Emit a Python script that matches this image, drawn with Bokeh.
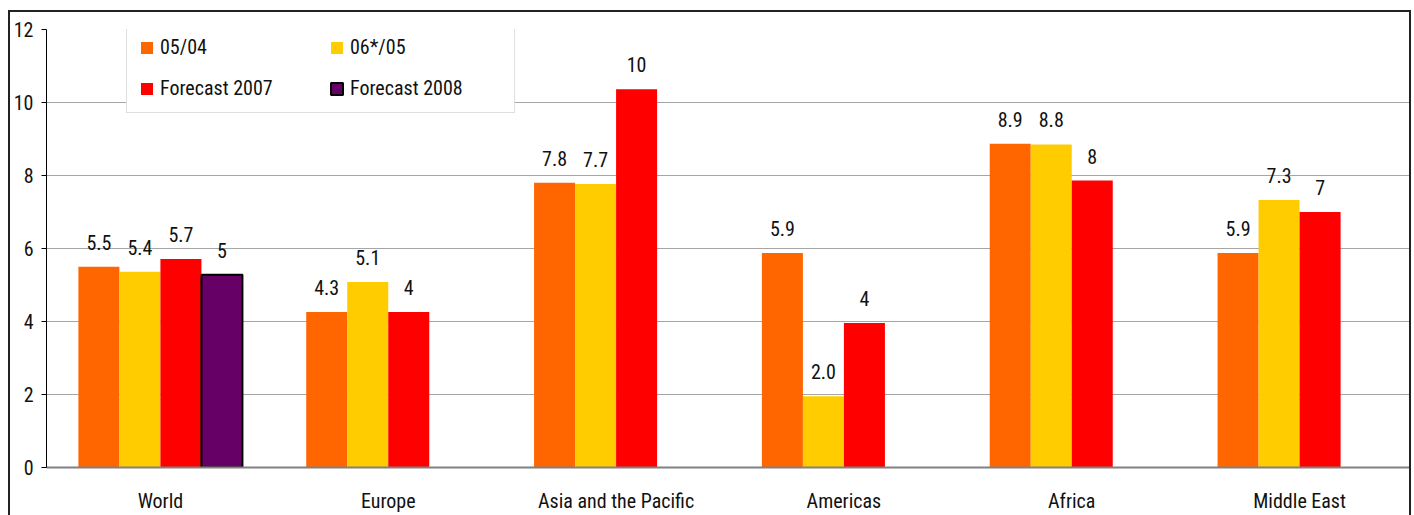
import math
from bokeh.plotting import figure
from bokeh.models import ColumnDataSource, FactorRange, Legend, LegendItem, FixedTicker
from bokeh.transform import dodge
from bokeh.core.properties import value
from bokeh.embed import file_html
from bokeh.resources import INLINE

regions = ["World", "Europe", "Asia and the Pacific", "Americas", "Africa", "Middle East"]
series_names = ["05/04", "06*/05", "Forecast 2007", "Forecast 2008"]

v_0504 = [5.5, 4.26, 7.8, 5.88, 8.87, 5.88]
v_0605 = [5.36, 5.08, 7.77, 1.95, 8.85, 7.33]
v_f2007 = [5.71, 4.26, 10.36, 3.96, 7.86, 7.0]
v_f2008 = [5.28, None, None, None, None, None]

l_0504 = ["5.5", "4.3", "7.8", "5.9", "8.9", "5.9"]
l_0605 = ["5.4", "5.1", "7.7", "2.0", "8.8", "7.3"]
l_f2007 = ["5.7", "4", "10", "4", "8", "7"]
l_f2008 = ["5", None, None, None, None, None]

y_ticks = [0, 2, 4, 6, 8, 10, 12]

colors = ["#FF6600", "#FFCC00", "#FF0000", "#660066"]
offsets = [-0.27, -0.09, 0.09, 0.27]
bar_w = 0.18

FONT = "Roboto Condensed, DejaVu Sans Condensed, sans-serif"
TXT = "#111111"

p = figure(x_range=FactorRange(*regions, range_padding=0), y_range=(0, 12),
           width=1403, height=505, output_backend="svg", toolbar_location=None,
           min_border_left=35, min_border_right=0, min_border_top=17, min_border_bottom=50)
p.styles = {"border": "2px solid #222222", "border-bottom": "none",
            "box-sizing": "border-box", "margin-left": "8px", "margin-top": "10px"}

p.outline_line_color = None
p.xgrid.grid_line_color = None
p.ygrid.grid_line_color = "#a6a6a6"
p.ygrid.grid_line_width = 1

p.yaxis.ticker = FixedTicker(ticks=y_ticks)
p.yaxis.minor_tick_line_color = None
p.yaxis.major_tick_out = 5
p.yaxis.major_tick_in = 0
p.yaxis.axis_line_color = "#000000"
p.yaxis.major_tick_line_color = "#000000"
p.yaxis.major_label_text_font = FONT
p.yaxis.major_label_text_font_size = "20px"
p.yaxis.major_label_text_color = TXT
p.yaxis.major_label_standoff = 8

p.xaxis.axis_line_color = "#808080"
p.xaxis.axis_line_width = 2
p.xaxis.major_tick_line_color = None
p.xaxis.minor_tick_line_color = None
p.xaxis.major_label_text_font = FONT
p.xaxis.major_label_text_font_size = "20px"
p.xaxis.major_label_text_color = TXT
p.xaxis.major_label_standoff = 15

all_vals = [v_0504, v_0605, v_f2007, v_f2008]
all_labels = [l_0504, l_0605, l_f2007, l_f2008]
renderers = []
for i, (vals, labs) in enumerate(zip(all_vals, all_labels)):
    xs = [r for r, v in zip(regions, vals) if v is not None]
    ys = [v for v in vals if v is not None]
    ls = [l for v, l in zip(vals, labs) if v is not None]
    src = ColumnDataSource(dict(x=xs, top=ys, lab=ls))
    r = p.vbar(x=dodge("x", offsets[i], range=p.x_range), top="top", bottom=0, width=bar_w,
               source=src, fill_color=colors[i],
               line_color="#000000" if i == 3 else None,
               line_width=2 if i == 3 else 0)
    p.text(x=dodge("x", offsets[i], range=p.x_range), y="top", text="lab", source=src,
           text_align="center", text_baseline="bottom", y_offset=-17,
           text_font=value(FONT), text_font_size="20px", text_color=TXT)
    renderers.append(r)

# legend fills column by column: order so rows read 05/04, 06*/05 / Forecast 2007, Forecast 2008
order = [0, 2, 1, 3]
items = [LegendItem(label=series_names[k], renderers=[renderers[k]]) for k in order]

legend = Legend(items=items, ncols=2, location=(80, 354),
                glyph_width=15, glyph_height=15, label_standoff=6, label_width=152,
                spacing=17, padding=12, margin=0,
                label_text_font=FONT, label_text_font_size="20px", label_text_color=TXT,
                border_line_color="#bfbfbf", border_line_width=1,
                background_fill_color="white", background_fill_alpha=1)
p.add_layout(legend, "center")

open("out.html", "w").write(file_html(p, INLINE))
